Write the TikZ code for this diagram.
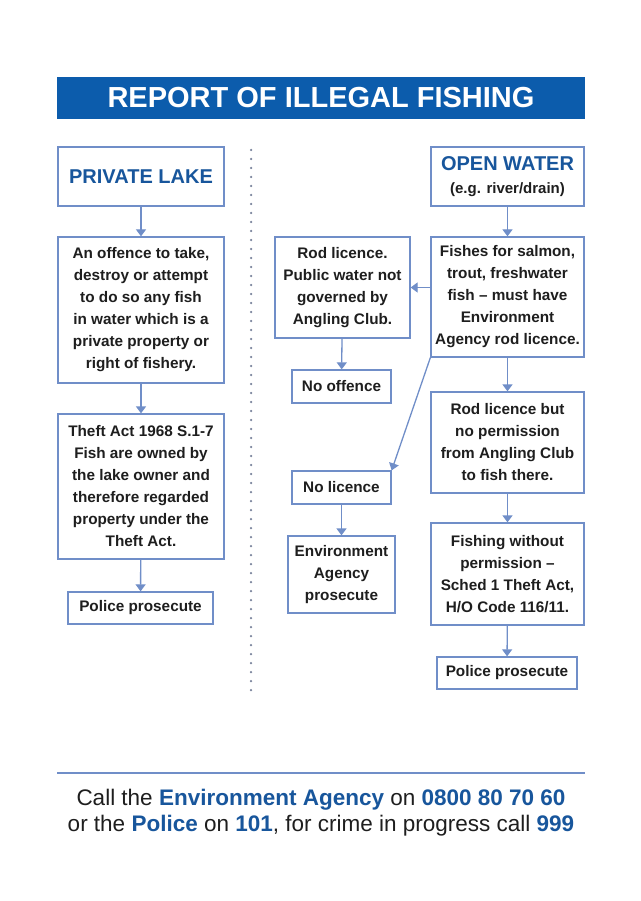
\documentclass[tikz,border=0pt]{standalone}
\usepackage{fontspec}
\setmainfont{Liberation Sans}
\usetikzlibrary{arrows.meta}
\definecolor{mblue}{RGB}{12,92,172}
\definecolor{lblue}{RGB}{112,142,200}
\definecolor{tblue}{RGB}{24,86,156}
\definecolor{ink}{RGB}{30,30,30}
\definecolor{dotc}{RGB}{120,130,155}
\tikzset{box/.style = {draw=lblue, line width=1.3pt, align=center, text=ink,
                       font=\bfseries\fontsize{15.3}{22}\selectfont, inner sep=0pt}}
\tikzset{arr/.style = {draw=lblue, line width=1.3pt,
                       -{Triangle[width=10pt,length=7pt]}, lblue}}
\tikzset{head/.style = {box, font=\bfseries\fontsize{20}{26}\selectfont, text=tblue}}

\begin{document}
\begin{tikzpicture}[x=1pt,y=-1pt]
  \useasboundingbox[fill=white] (0,0) rectangle (640,901);
  % title bar
  \node[fill=mblue, minimum width=528pt, minimum height=42pt, inner sep=0pt,
        text=white, font=\bfseries\fontsize{29}{30}\selectfont]
    (title) at (321,98) {REPORT OF ILLEGAL FISHING};
  % divider
  \draw[dotc, line width=2.5pt, line cap=round, dash pattern=on 0pt off 9pt]
    (251,150) -- (251,693);
  % private lake
  \node[head, minimum width=166pt, minimum height=59pt]
    (lake) at (141,176.5) {PRIVATE LAKE};
  \node[box, minimum width=166pt, minimum height=146pt]
    (offence) at (141,310) {An offence to take,\\destroy or attempt\\to do so any fish\\in water which is a\\private property or\\right of fishery.};
  \node[box, minimum width=166pt, minimum height=145pt]
    (theft) at (141,486.5) {Theft Act 1968 S.1-7\\Fish are owned by\\the lake owner and\\therefore regarded\\property under the\\Theft Act.};
  \node[box, minimum width=145pt, minimum height=32pt]
    (lakepol) at (140.5,608) {Police prosecute};
  \draw[arr] (lake) -- (offence);
  \draw[arr] (offence) -- (theft);
  \draw[arr] (theft) -- (lakepol);
  % open water
  \node[head, minimum width=153pt, minimum height=59pt]
    (open) at (507.5,176.5) {OPEN WATER\\[-3pt]{\fontsize{15}{18}\selectfont\color{ink}(e.g. river/drain)}};
  \node[box, minimum width=153pt, minimum height=120pt]
    (fishes) at (507.5,297) {Fishes for salmon,\\trout, freshwater\\fish -- must have\\Environment\\Agency rod licence.};
  \node[box, minimum width=135pt, minimum height=101pt]
    (rod) at (342.5,287.5) {Rod licence.\\Public water not\\governed by\\Angling Club.};
  \node[box, minimum width=99pt, minimum height=33pt]
    (nooff) at (341.5,386.5) {No offence};
  \node[box, minimum width=99pt, minimum height=33pt]
    (nolic) at (341.5,487.5) {No licence};
  \node[box, minimum width=107pt, minimum height=77pt]
    (eapros) at (341.5,574.5) {Environment\\Agency\\prosecute};
  \node[box, minimum width=153pt, minimum height=101pt]
    (rodbut) at (507.5,442.5) {Rod licence but\\no permission\\from Angling Club\\to fish there.};
  \node[box, minimum width=153pt, minimum height=102pt]
    (without) at (507.5,574) {Fishing without\\permission --\\Sched 1 Theft Act,\\H/O Code 116/11.};
  \node[box, minimum width=140pt, minimum height=32pt]
    (waterpol) at (507,673) {Police prosecute};
  \draw[arr] (open) -- (fishes);
  \draw[arr] (rod.east -| fishes.west) -- (rod.east);
  \draw[arr] (rod) -- (nooff);
  \draw[arr] (fishes.south west) -- (nolic.north east);
  \draw[arr] (nolic) -- (eapros);
  \draw[arr] (fishes) -- (rodbut);
  \draw[arr] (rodbut) -- (without);
  \draw[arr] (without) -- (waterpol);
  % footer
  \draw[lblue, line width=2pt] (57,773) -- (585,773);
  \node[align=center, text=ink, font=\fontsize{22.5}{26}\selectfont]
    (footer) at (321,813) {Call the \textbf{\color{tblue}Environment Agency} on \textbf{\color{tblue}0800 80 70 60}\\or the \textbf{\color{tblue}Police} on \textbf{\color{tblue}101}, for crime in progress call \textbf{\color{tblue}999}};
\end{tikzpicture}
\end{document}
